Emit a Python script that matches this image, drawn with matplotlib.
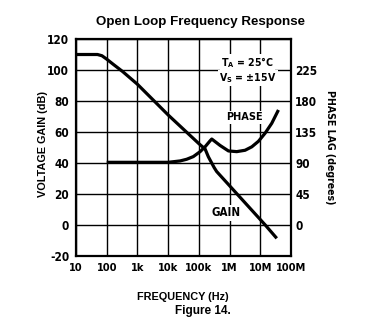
import matplotlib
matplotlib.use("Agg")
import matplotlib.pyplot as plt
from matplotlib import font_manager as fm

# Datos
gain_freq = [10, 50, 70, 100, 160, 330, 1e3, 1e4, 1e5, 1.6e5, 2.04e5, 3.16e5,
             3.8e5, 1.45e7, 3.44e7]
gain_db = [110, 110, 109.2, 107, 103.8, 99, 90.8, 71, 52.5, 49, 44, 37,
           34.5, 0, -8.6]

phase_freq = [100, 1e3, 1e4, 2.45e4, 4.0e4, 6.6e4, 1.1e5, 1.6e5, 2.3e5, 2.63e5,
              4.9e5, 9.2e5, 1.71e6, 3.2e6, 5.3e6, 8.7e6, 1.43e7, 2.36e7, 3.9e7]
phase_deg = [91, 91, 91, 93, 95.4, 99.3, 106.5, 113.6, 122, 124.8,
             115.5, 107.5, 106.5, 108.5, 113.5, 121.5, 133.2, 147.6, 167]

x_ticks = [10, 100, 1e3, 1e4, 1e5, 1e6, 1e7, 1e8]
x_labels = ["10", "100", "1k", "10k", "100k", "1M", "10M", "100M"]
gain_ticks = [-20, 0, 20, 40, 60, 80, 100, 120]
phase_ticks = [0, 45, 90, 135, 180, 225]

# buscar una fuente estrecha si hay alguna
narrow_name = None
for f in fm.fontManager.ttflist:
    if "Narrow" in f.name or f.stretch in ("condensed", "semi-condensed"):
        narrow_name = f.name
        narrow_stretch = f.stretch
        break

def narrow(size):
    if narrow_name:
        return fm.FontProperties(family=[narrow_name, "DejaVu Sans"], weight="bold",
                                 stretch=narrow_stretch, size=size)
    return fm.FontProperties(family=["Liberation Sans", "DejaVu Sans"], weight="bold", size=size * 0.9)

WIDE = ["Liberation Sans", "DejaVu Sans"]
plt.rcParams["mathtext.default"] = "regular"

fig = plt.figure(figsize=(3.71, 3.32), dpi=100)
ax = fig.add_axes([76 / 371, 76 / 332, 215 / 371, 217 / 332])

ax.set_xscale("log")
ax.set_xlim(10, 1e8)
ax.set_ylim(-20, 120)
ax.set_xticks(x_ticks)
ax.set_xticklabels(x_labels, fontproperties=narrow(7.9))
ax.minorticks_off()
ax.set_yticks(gain_ticks)
ax.set_yticklabels([str(v) for v in gain_ticks], fontproperties=narrow(8.5))
ax.tick_params(length=0, pad=5)
ax.grid(True, color="black", linewidth=1.0)
for s in ax.spines.values():
    s.set_linewidth(1.6)

ax.plot(gain_freq, gain_db, color="black", linewidth=2.3, solid_capstyle="butt", zorder=3)
ax.plot(phase_freq, [p / 2.25 for p in phase_deg], color="black", linewidth=2.3,
        solid_capstyle="butt", zorder=3)

ax2 = ax.twinx()
ax2.set_ylim(-45, 270)
ax2.set_yticks(phase_ticks)
ax2.set_yticklabels([str(v) for v in phase_ticks], fontproperties=narrow(8.5))
ax2.tick_params(length=0, pad=3)
for s in ax2.spines.values():
    s.set_visible(False)

ax.set_ylabel("VOLTAGE GAIN (dB)", family=WIDE, fontweight="bold", fontsize=7.8)
ax.yaxis.set_label_coords(-0.128, 0.516)
ax2.set_ylabel("PHASE LAG (degrees)", fontproperties=narrow(7.6), rotation=-90, labelpad=13)

box = dict(facecolor="white", edgecolor="none", pad=1)
ax.text(0.784, 0.64, "PHASE", transform=ax.transAxes, ha="center", va="center",
        fontproperties=narrow(7.8), bbox=box, zorder=4)
ax.text(0.696, 0.199, "GAIN", transform=ax.transAxes, ha="center", va="center",
        fontproperties=narrow(8.3), bbox=box, zorder=4)
ax.text(0.798, 0.89, "T$_A$ = 25°C", transform=ax.transAxes, ha="center", va="center",
        fontproperties=narrow(7.6), bbox=box, zorder=4)
ax.text(0.798, 0.82, "V$_S$ = ±15V", transform=ax.transAxes, ha="center", va="center",
        fontproperties=narrow(7.6), bbox=box, zorder=4)

fig.text(201 / 371, 1 - 22 / 332, "Open Loop Frequency Response", ha="center", va="center",
         family=WIDE, fontweight="bold", fontsize=9.6)
fig.text(183 / 371, 1 - 297 / 332, "FREQUENCY (Hz)", ha="center", va="center",
         family=WIDE, fontweight="bold", fontsize=7.8)
fig.text(231 / 371, 1 - 311 / 332, "Figure 14.", ha="right", va="center",
         family=WIDE, fontweight="bold", fontsize=8.5)

fig.savefig("out.png", dpi=100)
